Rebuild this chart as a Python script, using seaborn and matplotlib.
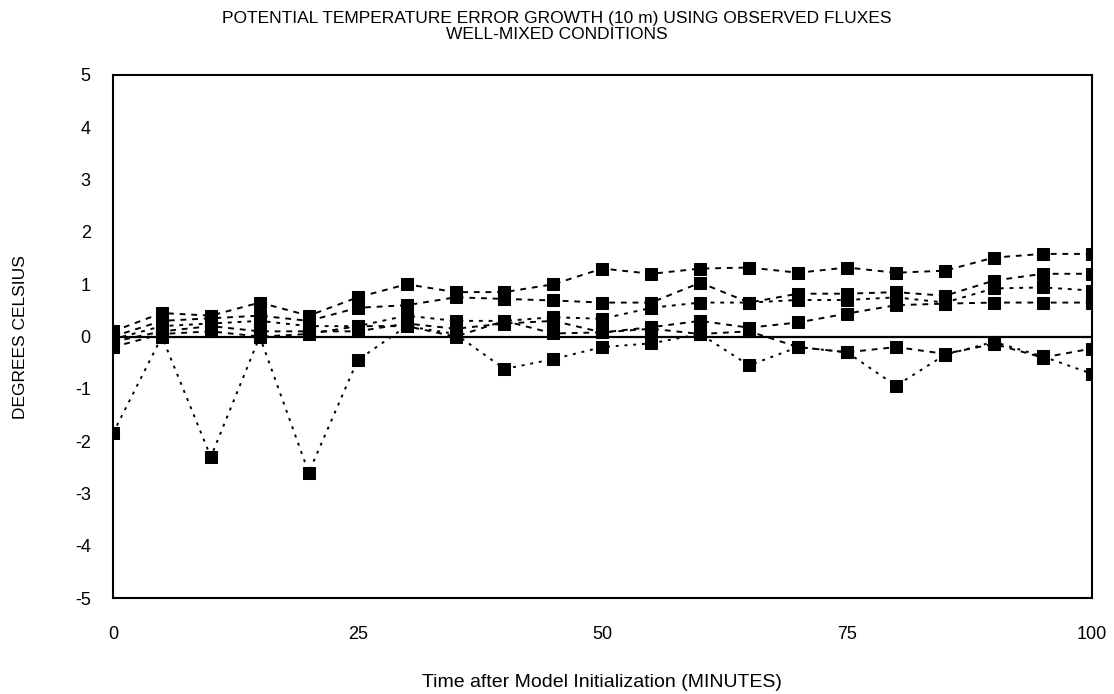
import matplotlib
matplotlib.use("Agg")
import matplotlib.pyplot as plt
import seaborn as sns
import pandas as pd
from matplotlib.ticker import MultipleLocator

minutes = [0, 5, 10, 15, 20, 25, 30, 35, 40, 45, 50, 55, 60, 65, 70, 75, 80, 85, 90, 95, 100]
run1 = [0.1, 0.45, 0.4, 0.65, 0.4, 0.75, 1.0, 0.85, 0.85, 1.0, 1.3, 1.2, 1.3, 1.32, 1.22, 1.32, 1.22, 1.26, 1.51, 1.58, 1.58]
run2 = [0.0, 0.3, 0.35, 0.4, 0.3, 0.55, 0.6, 0.75, 0.72, 0.69, 0.65, 0.65, 1.03, 0.65, 0.82, 0.82, 0.85, 0.78, 1.07, 1.2, 1.2]
run3 = [-0.05, 0.2, 0.25, 0.3, 0.2, 0.2, 0.4, 0.3, 0.3, 0.37, 0.34, 0.55, 0.65, 0.65, 0.7, 0.7, 0.75, 0.65, 0.92, 0.94, 0.88]
run4 = [-0.1, 0.1, 0.2, 0.1, 0.1, 0.1, 0.25, 0.15, 0.25, 0.3, 0.08, 0.18, 0.3, 0.17, 0.27, 0.44, 0.6, 0.63, 0.65, 0.65, 0.65]
run5 = [-0.2, 0.05, 0.1, 0.0, 0.05, 0.2, 0.2, 0.0, 0.3, 0.06, 0.08, 0.15, 0.05, 0.1, -0.2, -0.3, -0.2, -0.33, -0.14, -0.4, -0.23]
run6 = [-1.85, 0.0, -2.3, 0.0, -2.6, -0.45, 0.2, 0.05, -0.62, -0.43, -0.2, -0.13, 0.05, -0.55, -0.2, -0.3, -0.94, -0.35, -0.1, -0.38, -0.71]

x_ticks = [0, 25, 50, 75, 100]
y_ticks = [-5, -4, -3, -2, -1, 0, 1, 2, 3, 4, 5]

title = "POTENTIAL TEMPERATURE ERROR GROWTH (10 m) USING OBSERVED FLUXES\nWELL-MIXED CONDITIONS"
xlabel = "Time after Model Initialization (MINUTES)"
ylabel = "DEGREES CELSIUS"

sns.set_style("white")
plt.rcParams["font.family"] = ["Liberation Sans", "DejaVu Sans"]
plt.rcParams["axes.unicode_minus"] = False
plt.rcParams["text.color"] = "black"
plt.rcParams["axes.labelcolor"] = "black"

fig = plt.figure(figsize=(11.14, 6.94), dpi=100)
ax = fig.add_axes([0.1014, 0.138, 0.8786, 0.754])

series = [run1, run2, run3, run4, run5, run6]
dash_styles = [(0, (3, 3)), (0, (3, 3)), (0, (2, 3)), (0, (3, 3)), (0, (3, 3)), (0, (1.5, 3))]
for vals, ds in zip(series, dash_styles):
    df = pd.DataFrame({"minutes": minutes, "value": vals})
    sns.lineplot(data=df, x="minutes", y="value", ax=ax, color="black",
                 linestyle=ds, linewidth=1.4, marker="s", markersize=9,
                 markeredgecolor="black", markerfacecolor="black")

ax.axhline(0, color="black", linewidth=1.6)

ax.set_xlim(0, 100)
ax.set_ylim(-5, 5)
ax.set_xticks(x_ticks)
ax.set_yticks(y_ticks)
ax.xaxis.set_minor_locator(MultipleLocator(12.5))
ax.yaxis.set_minor_locator(MultipleLocator(0.5))
ax.tick_params(axis="both", which="major", direction="out", length=6, width=1.2,
               labelsize=13, colors="black", pad=10)
ax.tick_params(axis="both", which="minor", direction="out", length=3, width=1.0, colors="black")
ax.tick_params(axis="x", which="major", pad=14)

for sp in ax.spines.values():
    sp.set_color("black")
    sp.set_linewidth(1.5)
    sp.set_visible(True)

ax.set_xlabel(xlabel, fontsize=14, labelpad=22, color="black")
ax.set_ylabel(ylabel, fontsize=12.5, labelpad=34, color="black")
ax.set_title(title, fontsize=12.5, pad=26, linespacing=1.05, x=0.4535, color="black")

fig.savefig("out.png", dpi=100)
